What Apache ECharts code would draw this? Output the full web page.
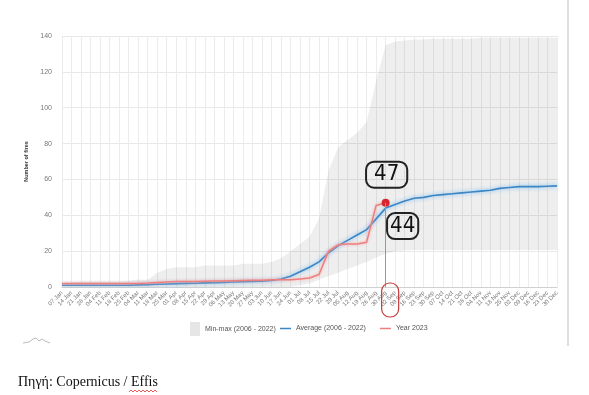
<!DOCTYPE html>
<html>
<head>
<meta charset="utf-8">
<script src="https://cdn.jsdelivr.net/npm/echarts@6/dist/echarts.min.js"></script>
<style>
html,body{margin:0;padding:0;background:#fff;}
#chart{width:589px;height:395px;}
</style>
</head>
<body>
<div id="chart"></div>
<script>
const categories = ['07 Jan','14 Jan','21 Jan','28 Jan','04 Feb','11 Feb','18 Feb','25 Feb','04 Mar','11 Mar','18 Mar','25 Mar','01 Apr','08 Apr','15 Apr','22 Apr','29 Apr','06 May','13 May','20 May','27 May','03 Jun','10 Jun','17 Jun','24 Jun','01 Jul','08 Jul','15 Jul','22 Jul','29 Jul','05 Aug','12 Aug','19 Aug','26 Aug','30 Aug','02 Sep','09 Sep','16 Sep','23 Sep','30 Sep','07 Oct','14 Oct','21 Oct','28 Oct','04 Nov','11 Nov','18 Nov','25 Nov','02 Dec','09 Dec','16 Dec','23 Dec','30 Dec'];

const maxVals = [2,2.5,3,3,3,3,3,3.5,4,4, 8,10,11,11,11,12,12,12,12,13, 13,13,14,16,20,24,28,38,65,78, 82,86,92,115,135,137,137.5,138,138,138.5, 138.5,138.5,138.5,138.5,139,139,139,139,139,139, 139,139,139];

const minVals = [0,0,0,0,0,0,0,0,0,0, 0,0,0,0,0,0,0,0,0,0, 0,0,0,0,0, 1,2,4,6,8, 10,12,14,16.5,18.5,20,20.5,20.7,20.7,20.7, 20.7,20.7,20.7,20.7,20.7,20.7,20.7,20.7,20.7,20.7, 20.7,20.7,20.7];

const avgVals = [1,1,1,1,1,1,1,1,1.2,1.3, 1.5,1.7,1.9,2,2.1,2.3,2.4,2.6,2.8,3, 3.1,3.3,3.6,4.5,6,8.5,11,14,19,23, 26,29,32,38,44,46,48,49.5,50,51, 51.5,52,52.5,53,53.5,54,55,55.5,56,56, 56,56.2,56.4];

const year2023 = [2,2,2,2,2,2,2,2,2,2.2, 2.5,2.8,3,3,3,3.2,3.3,3.4,3.5,3.6, 3.7,3.8,4,4,4,4.5,5,7,20,23.5, 24,24,25,45.5,47];

const yTicks = [0,20,40,60,80,100,120,140];
const highlightCat = '30 Aug';
const avgLabel = '44';
const yearLabel = '47';

const names = {band:'Min-max (2006 - 2022)', avg:'Average (2006 - 2022)', year:'Year 2023'};

const chart = echarts.init(document.getElementById('chart'), null, {renderer:'canvas'});
const hi = categories.indexOf(highlightCat);
const lastIdx = year2023.length - 1;

const bandDiff = maxVals.map((v,i)=> v - minVals[i]);
const yearData = year2023.map((v,i)=> i === lastIdx ? {value:v, symbol:'circle', symbolSize:8, itemStyle:{color:'#d9262e'}} : v);

const narrow = "'Liberation Sans Narrow','DejaVu Sans Condensed',sans-serif";
const legendText = {fontSize:7, color:'#555', fontFamily:'Arial, Liberation Sans, sans-serif'};

const option = {
  backgroundColor:'#fff',
  animation:false,
  grid:{left:62, right:32, top:36, bottom:108},
  legend:[
    {
      left:185, top:317, itemWidth:10, itemHeight:14, itemGap:14,
      textStyle:legendText, selectedMode:false,
      data:[{name:names.band, icon:'rect', itemStyle:{color:'#e6e6e6'}}]
    },
    {
      left:275, top:320, itemWidth:11, itemHeight:1.5, itemGap:14,
      textStyle:legendText, selectedMode:false,
      data:[
        {name:names.avg, icon:'rect', itemStyle:{color:'#3b87c6'}},
        {name:names.year, icon:'rect', itemStyle:{color:'#ee7f7f'}}
      ]
    }
  ],
  xAxis:{
    type:'category', data:categories, boundaryGap:false,
    axisLine:{show:true, lineStyle:{color:'#d0d0d0'}},
    axisTick:{show:false},
    axisLabel:{interval:0, rotate:45, fontSize:6, color:'#777', margin:5},
    splitLine:{show:true, lineStyle:{color:'#ececec', width:1}}
  },
  yAxis:{
    type:'value', min:yTicks[0], max:yTicks[yTicks.length-1], interval:20,
    name:'Number of fires', nameLocation:'middle', nameRotate:90, nameGap:28,
    nameTextStyle:{fontSize:5.5, fontWeight:'bold', color:'#333'},
    axisLine:{show:false}, axisTick:{show:false},
    axisLabel:{fontSize:7, color:'#777', margin:10},
    splitLine:{lineStyle:{color:'#e8e8e8'}}
  },
  series:[
    {name:'base', type:'line', stack:'band', data:minVals, symbol:'none', lineStyle:{opacity:0}, areaStyle:{opacity:0}, silent:true, z:1},
    {name:names.band, type:'line', stack:'band', data:bandDiff, symbol:'none', lineStyle:{opacity:0}, areaStyle:{color:'rgba(0,0,0,0.095)'}, itemStyle:{color:'#e6e6e6'}, silent:true, z:1},
    {name:names.avg, type:'line', data:avgVals, symbol:'none', z:3,
      itemStyle:{color:'#3b87c6'},
      lineStyle:{color:'#3b87c6', width:1.6, shadowColor:'rgba(110,180,235,1)', shadowBlur:4},
      markPoint:{
        symbol:'circle', symbolSize:1, itemStyle:{color:'rgba(0,0,0,0)'},
        data:[{coord:[highlightCat, avgVals[hi]], value:avgLabel,
          label:{show:true, position:'inside', offset:[17,18], formatter:avgLabel,
            fontSize:22, fontFamily:narrow, color:'#111', lineHeight:22,
            borderColor:'#222', borderWidth:1, borderRadius:8, padding:[2,3,2,3], backgroundColor:'rgba(0,0,0,0)'}}]
      }
    },
    {name:names.year, type:'line', data:yearData, symbol:'none', z:4,
      itemStyle:{color:'#ee8080'},
      lineStyle:{color:'#ee7f7f', width:1.5, shadowColor:'rgba(245,170,170,1)', shadowBlur:3},
      markLine:{
        silent:true, symbol:'none', label:{show:false},
        lineStyle:{color:'#999', width:1, type:'solid'},
        data:[[{coord:[highlightCat, year2023[lastIdx]]},{coord:[highlightCat, 0]}]]
      },
      markPoint:{
        symbol:'circle', symbolSize:1, itemStyle:{color:'rgba(0,0,0,0)'},
        data:[{coord:[highlightCat, year2023[lastIdx]], value:yearLabel,
          label:{show:true, position:'inside', offset:[1,-28], formatter:yearLabel,
            fontSize:22, fontFamily:narrow, color:'#111', lineHeight:22,
            borderColor:'#222', borderWidth:1, borderRadius:8, padding:[2,8,2,8], backgroundColor:'rgba(0,0,0,0)'}}]
      }
    }
  ]
};
chart.setOption(option);

// decorations placed relative to the chart's own scale
const px = chart.convertToPixel({xAxisIndex:0}, highlightCat);
chart.setOption({
  graphic:[
    {type:'rect', shape:{x:px-4, y:283, width:17, height:34, r:8}, style:{fill:'none', stroke:'#c23b3b', lineWidth:1.2}, z:100},
    {type:'line', shape:{x1:568, y1:0, x2:568, y2:346}, style:{stroke:'#bdbdbd', lineWidth:1}},
    {type:'polyline', shape:{points:[[23,343],[29,342],[33,339],[36,338],[39,341],[42,339],[45,341],[50,343]]}, style:{stroke:'#bbb', lineWidth:1, fill:'none'}},
    {type:'text', left:18, top:375, style:{text:'Πηγή: Copernicus / Effis', font:'14px "Liberation Serif", "Times New Roman", serif', fill:'#111'}},
    {type:'polyline', shape:{points:[[129,392],[131,390],[133,392],[135,390],[137,392],[139,390],[141,392],[143,390],[145,392],[147,390],[149,392],[151,390],[153,392],[155,390],[157,392]]}, style:{stroke:'#e03030', lineWidth:0.8, fill:'none'}}
  ]
});
</script>
</body>
</html>
